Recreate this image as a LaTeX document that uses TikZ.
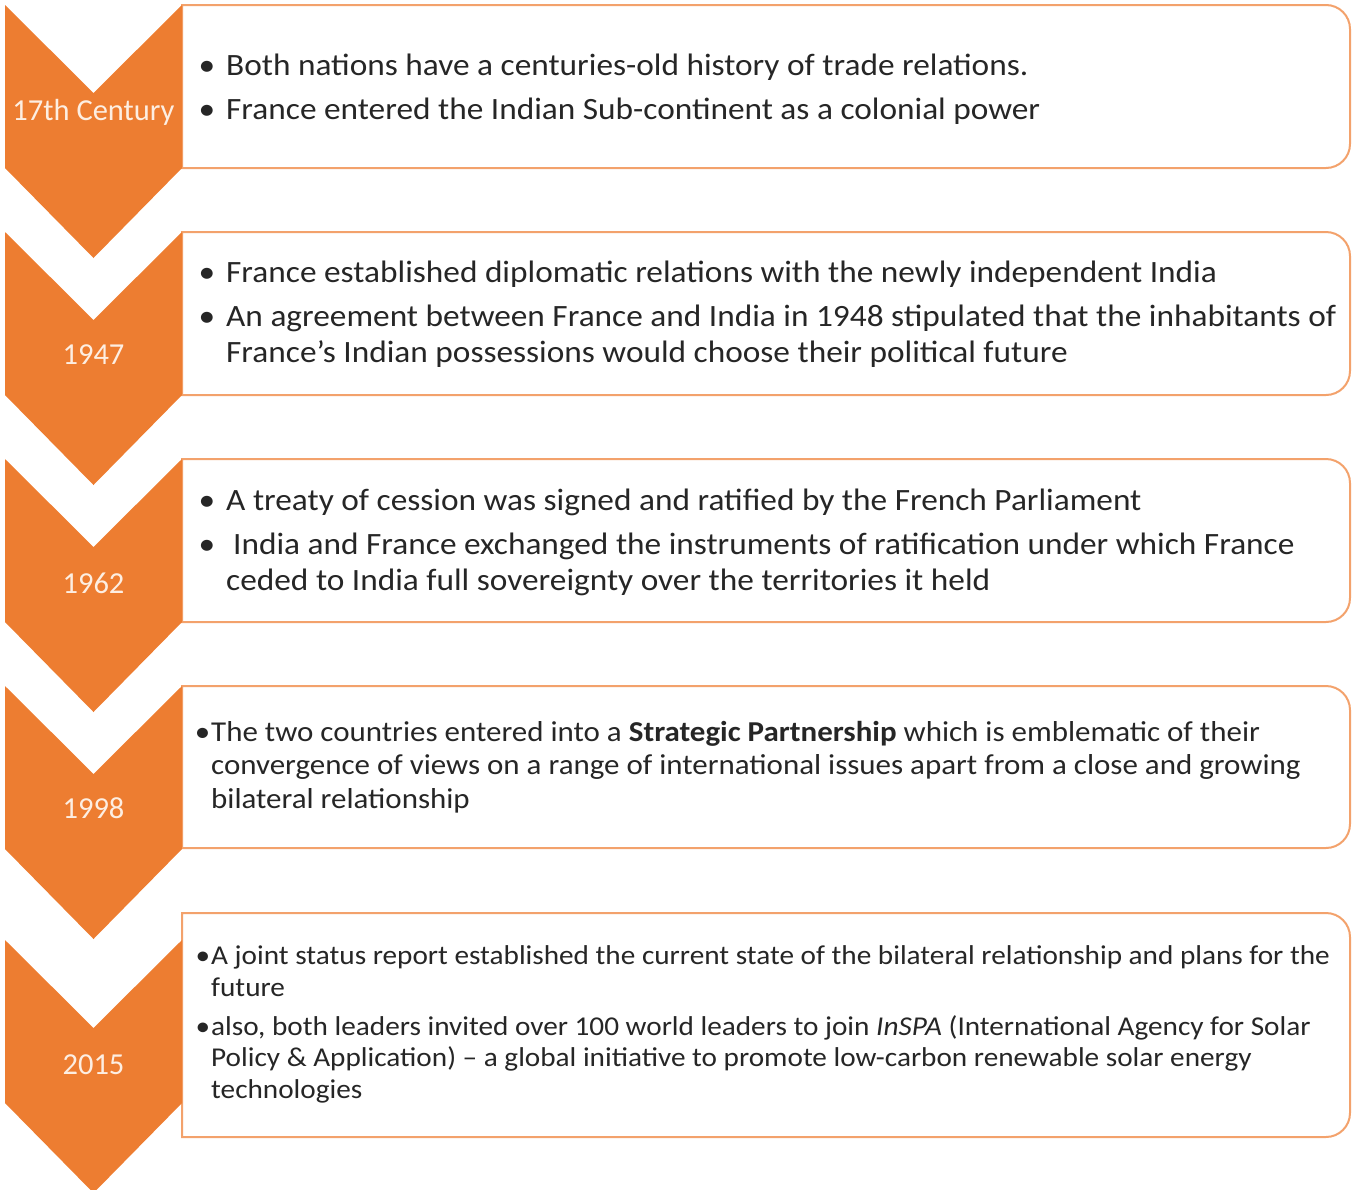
\documentclass[tikz,border=0pt]{standalone}
\usepackage{fontspec}
\setmainfont{Carlito}[FakeStretch=1.075]
\newfontfamily\yearfont{Carlito}
\definecolor{chevorange}{HTML}{ED7D31}
\definecolor{boxline}{HTML}{F3A26C}
\definecolor{bodytext}{HTML}{262626}
\definecolor{yeartext}{HTML}{FDEEE2}
\tikzset{
    chevron/.style={fill=chevorange},
    panel/.style={draw=boxline,line width=2pt,fill=white},
    yearlbl/.style={text=yeartext,inner sep=0pt,font=\yearfont\fontsize{30.5}{34}\selectfont},
    item/.style={anchor=base west,align=left,inner sep=0pt,text=bodytext,font=\fontsize{31}{36}\selectfont},
    itemsmall/.style={item,font=\fontsize{28.8}{33.5}\selectfont},
    itemtiny/.style={item,font=\fontsize{27.2}{31.5}\selectfont},
  }

\begin{document}
\begin{tikzpicture}[x=1pt,y=-1pt]
				  \useasboundingbox (0,0) rectangle (1352,1189);
				  %boites
				  \foreach \ya/\yb in {5/168,232/395,459/622,686/848,913/1137}{
				    \draw[panel] (182,\ya) -- (1326,\ya) arc[start angle=-90,end angle=0,radius=24]
				      -- (1350,\yb-24) arc[start angle=0,end angle=90,radius=24] -- (182,\yb) -- cycle;
				  }
				  %chevrons
				  \foreach \t in {5,232,459,686,940}{
				    \fill[chevron] (5,\t) -- (93.5,\t+88) -- (182,\t) -- (182,\t+163)
				      -- (93.5,\t+253) -- (5,\t+163) -- cycle;
				  }
				  %annees
				  \node[yearlbl] (y1) at (93.5,112) {17th Century};
				  \node[yearlbl] (y2) at (93.5,355) {1947};
				  \node[yearlbl] (y3) at (93.5,583) {1962};
				  \node[yearlbl] (y4) at (93.5,808) {1998};
				  \node[yearlbl] (y5) at (93.5,1065) {2015};
				  %textes (ancre = ligne de base de la derniere ligne)
				  \node[item] (t1a) at (226,75) {\llap{•\hspace{11pt}}Both nations have a centuries-old history of trade relations.};
				  \node[item] (t1b) at (226,119) {\llap{•\hspace{11pt}}France entered the Indian Sub-continent as a colonial power};
				  \node[item] (t2a) at (226,282) {\llap{•\hspace{11pt}}France established diplomatic relations with the newly independent India};
				  \node[item] (t2b) at (226,362) {\llap{•\hspace{11pt}}An agreement between France and India in 1948 stipulated that the inhabitants of\\France's Indian possessions would choose their political future};
				  \node[item] (t3a) at (226,510) {\llap{•\hspace{11pt}}A treaty of cession was signed and ratified by the French Parliament};
				  \node[item] (t3b) at (226,590) {\llap{•\hspace{11pt}}\hspace{7pt}India and France exchanged the instruments of ratification under which France\\ceded to India full sovereignty over the territories it held};
				  \node[itemsmall] (t4a) at (211,808) {\llap{•\hspace{1pt}}The two countries entered into a \textbf{Strategic Partnership} which is emblematic of their\\convergence of views on a range of international issues apart from a close and growing\\bilateral relationship};
				  \node[itemtiny] (t5a) at (211,996) {\llap{•\hspace{1pt}}A joint status report established the current state of the bilateral relationship and plans for the\\future};
				  \node[itemtiny] (t5b) at (211,1098) {\llap{•\hspace{1pt}}also, both leaders invited over 100 world leaders to join \textit{InSPA} (International Agency for Solar\\Policy \& Application) -- a global initiative to promote low-carbon renewable solar energy\\technologies};
				  \end{tikzpicture}
\end{document}
